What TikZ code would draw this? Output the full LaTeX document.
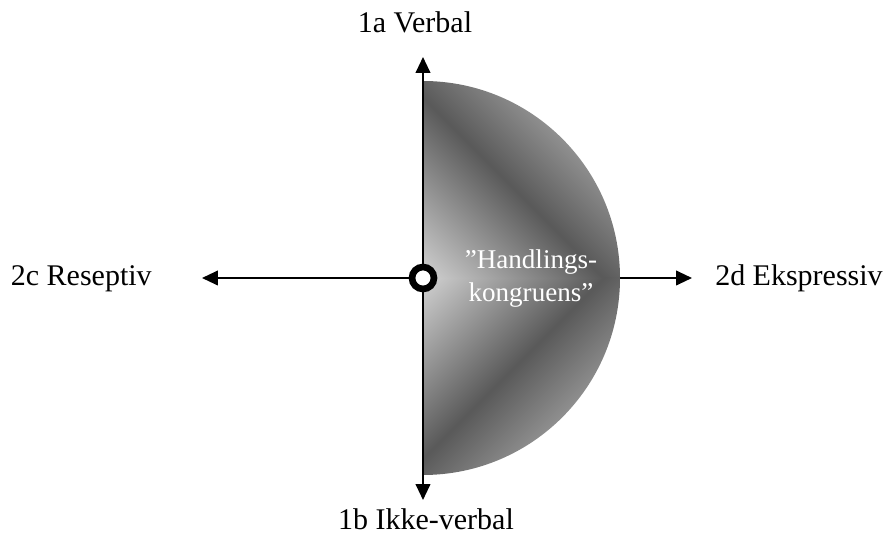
\documentclass[tikz,border=0pt]{standalone}
\usepackage{fontspec}
\setmainfont{Liberation Serif}
\usetikzlibrary{arrows.meta}
\definecolor{discpale}{gray}{0.82}
\definecolor{discdark}{gray}{0.35}
\definecolor{discedge}{gray}{0.56}
\pgfdeclarehorizontalshading{discshade}{100bp}{color(0bp)=(discpale); color(14.64bp)=(discpale); color(47bp)=(discdark); color(64.5bp)=(discedge); color(100bp)=(discedge)}
\tikzset{
  axisline/.style={line width=1.5pt, -{Triangle[length=12pt,width=11pt]}},
  hub/.style={circle, draw, line width=5pt, fill=white, minimum size=16.5pt, inner sep=0pt},
  axlabel/.style={font=\fontsize{22.5}{27}\selectfont, inner sep=0pt},
  disclabel/.style={font=\fontsize{20.3}{24.75}\selectfont, text=white, align=center, inner sep=0pt},
}
\begin{document}
\begin{tikzpicture}[x=0.75pt, y=0.75pt]
\useasboundingbox (-423,-264) rectangle (466,278);
\def\R{197}
\coordinate (o) at (0,0);
\coordinate (toptip) at (0,221);
\coordinate (bottip) at (0,-222);
\coordinate (lefttip) at (-221,0);
\coordinate (righttip) at (269,0);
\coordinate (rim) at (\R,0);

% ===== half disc (two quarters, shaded from the hub outwards) =====
\begin{scope}
  \clip (o) -- (\R,0) arc[start angle=0, end angle=90, radius=\R] -- cycle;
  \shade[shading=discshade, shading angle=45] (0,0) rectangle (\R,\R);
\end{scope}
\begin{scope}
  \clip (o) -- (0,-\R) arc[start angle=-90, end angle=0, radius=\R] -- cycle;
  \shade[shading=discshade, shading angle=-45] (0,-\R) rectangle (\R,0);
\end{scope}

% ===== axes =====
\draw[axisline] (o) -- (toptip);
\draw[axisline] (o) -- (bottip);
\draw[axisline] (o) -- (lefttip);
\draw[axisline] (rim) -- (righttip);
\node[hub] (hub) at (o) {};

% ===== labels =====
\node[axlabel, anchor=base] (verbal) at (-8,245) {1a Verbal};
\node[axlabel, anchor=base] (ikke) at (3,-251) {1b Ikke-verbal};
\node[axlabel, anchor=base east] (reseptiv) at (-271,-8) {2c Reseptiv};
\node[axlabel, anchor=base west] (ekspressiv) at (292,-8) {2d Ekspressiv};
\node[disclabel] (handling) at (108,-1) {”Handlings-\\kongruens”};

\end{tikzpicture}
\end{document}
